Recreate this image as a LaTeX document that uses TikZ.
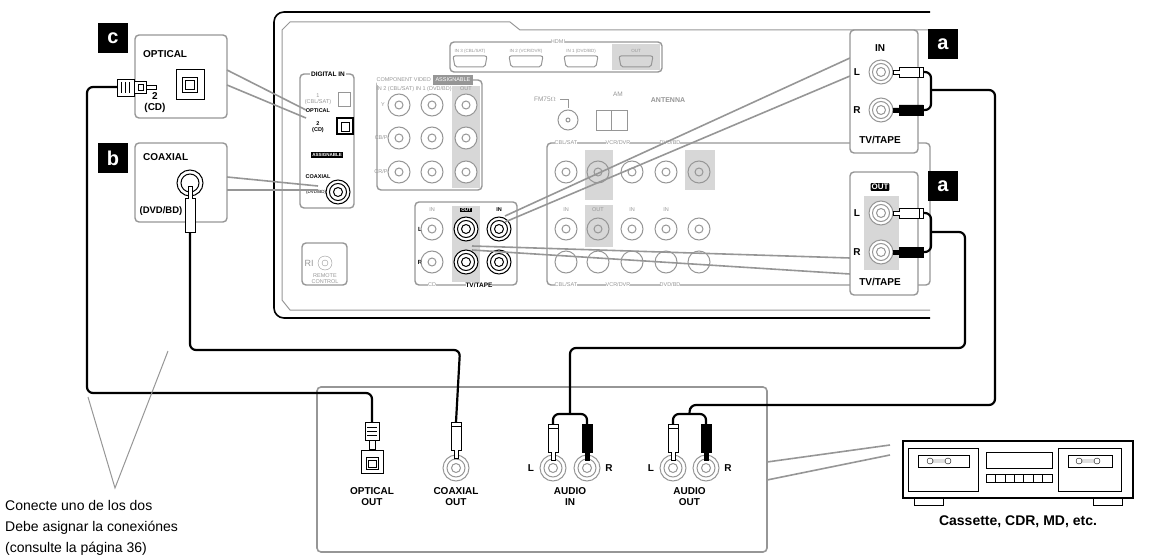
\documentclass[tikz,border=0pt]{standalone}
\usepackage{fontspec}
\setmainfont{Liberation Sans}
\usetikzlibrary{calc}
\definecolor{gl}{RGB}{150,150,150}
\definecolor{gf}{RGB}{215,215,215}
\newcommand{\rcajack}[4]{% name, x, y, color
  \node[circle,draw=#4,line width=1pt,minimum size=24pt,inner sep=0pt,fill=white] (#1) at (#2,#3) {};
  \draw[#4,line width=1pt] (#2,#3) circle (8.5pt) (#2,#3) circle (4.5pt);}
\newcommand{\rcaplugH}[3]{% x y fill
  \begin{scope}[shift={(#1,#2)}]
  \draw[line width=0.8pt,fill=#3] (0,-2)--(6,-2)--(6,-5)--(30,-5)--(30,5)--(6,5)--(6,2)--(0,2)--cycle;
  \draw[line width=0.8pt] (26,-5)--(26,5);
  \end{scope}}
\newcommand{\rcaplugV}[3]{% x ytop fill
  \begin{scope}[shift={(#1,#2)}]
  \draw[line width=0.8pt,fill=#3] (-5,0)--(5,0)--(5,28)--(2,28)--(2,36)--(-2,36)--(-2,28)--(-5,28)--cycle;
  \draw[line width=0.8pt] (-5,4)--(5,4);
  \end{scope}}
\tikzset{
  cable/.style={line width=2.2pt,rounded corners=6pt},
  callout/.style={gl,line width=1.6pt},
  gbox/.style={draw=gl,line width=1.4pt,rounded corners=4pt},
  lbl/.style={font=\bfseries\fontsize{10}{11}\selectfont,inner sep=0pt,align=center},
  tiny/.style={font=\fontsize{5.5}{6}\selectfont,gl,inner sep=0pt,align=center},
  tag/.style={fill=black,text=white,font=\bfseries\fontsize{20}{20}\selectfont,minimum size=30pt,inner sep=0pt}
}
\begin{document}
\begin{tikzpicture}[x=1pt,y=-1pt]
\useasboundingbox (0,0) rectangle (1151,559);
% ---------- receiver panel ----------
\draw[line width=1.6pt,rounded corners=10pt] (930,12)--(274,12)--(274,318)--(930,318);
\draw[gl,line width=1pt] (930,30)--(520,30)--(510,22)--(290,22)--(282,30)--(282,300)--(290,310)--(930,310);
% digital in
\draw[gbox] (300,74) rectangle (354,208);
\node[lbl,fill=white,inner xsep=1pt,font=\bfseries\fontsize{6.5}{7}\selectfont] (dig) at (328,74) {DIGITAL IN};
\draw[gl] (338,92) rectangle (350,106); \node[tiny] (o1) at (318,99) {1\\(CBL/SAT)};
\node[lbl,font=\bfseries\fontsize{5.5}{6}\selectfont] (optt) at (318,111) {OPTICAL};
\draw[line width=1.2pt] (337,118) rectangle (353,134); \draw (341,122) rectangle (349,131);
\node[lbl,font=\bfseries\fontsize{5.5}{6}\selectfont] (o2) at (318,127) {2\\(CD)};
\node[fill=black,text=white,font=\bfseries\fontsize{4.5}{4.5}\selectfont,inner sep=1pt] (asg) at (327,155) {ASSIGNABLE};
\node[lbl,font=\bfseries\fontsize{5.5}{6}\selectfont] (coxt) at (318,177) {COAXIAL};
\node[tiny,black,font=\fontsize{4.5}{5}\selectfont] (dvd) at (316,192) {(DVD/BD)};
\rcajack{cx}{338}{192}{black}
% remote
\draw[gbox] (302,243) rectangle (347,285);
\node[circle,draw=gl,minimum size=14pt,inner sep=0] (ri) at (325,263) {}; \draw[gl] (325,263) circle (3pt);
\node[gl,font=\fontsize{9}{9}\selectfont] (rit) at (309,263) {RI};
\node[tiny] (rc) at (325,279) {REMOTE\\CONTROL};
% component video
\draw[gbox] (377,80) rectangle (482,190);
\fill[gf] (452,86) rectangle (480,188);
\node[tiny,fill=white] (cv) at (425,80) {COMPONENT VIDEO \colorbox{gl}{\color{white}ASSIGNABLE}};
\node[tiny] (cvin) at (414,89) {IN 2 (CBL/SAT) IN 1 (DVD/BD)};
\node[tiny] (cvo) at (466,89) {OUT};
\foreach \y/\t in {105/{Y},138/{CB/PB},172/{CR/PR}}{
  \node[tiny] at (383,\y) {\t};
  \foreach \x in {399,432,466}{ \draw[gl,line width=1pt,fill=white] (\x,\y) circle (11pt) (\x,\y) circle (4pt);}}
% HDMI
\draw[gbox] (450,42) rectangle (662,72);
\fill[gf] (612,44) rectangle (660,70);
\node[tiny,fill=white] (hd) at (558,42) {HDMI};
\foreach \x/\t in {470/{IN 3 (CBL/SAT)},526/{IN 2 (VCR/DVR)},581/{IN 1 (DVD/BD)},636/{OUT}}{
  \node[tiny,font=\fontsize{4.5}{5}\selectfont] at (\x,51) {\t};
  \draw[gl,line width=1pt,rounded corners=2pt] (\x-17,56)--(\x+17,56)--(\x+15,67)--(\x-15,67)--cycle;}
% antenna
\node[tiny,font=\fontsize{6.5}{6}\selectfont] (fm) at (545,99) {FM75$\Omega$};
\draw[gl,line width=1pt] (568,120) circle (10pt) (568,120) circle (2pt);
\draw[gl] (560,99)--(568,99)--(568,108);
\node[tiny,font=\fontsize{6.5}{6}\selectfont] (am) at (618,94) {AM};
\draw[gl,line width=1pt] (596,111) rectangle (627,131) (611,111)--(611,131);
\node[tiny,font=\bfseries\fontsize{7}{6}\selectfont] (ant) at (668,100) {ANTENNA};
% right jacks
\draw[gbox] (547,143) rectangle (930,285);
\fill[gf] (585,150) rectangle (613,200); \fill[gf] (585,205) rectangle (613,247); \fill[gf] (685,150) rectangle (715,190);
\foreach \x/\t in {566/{CBL/SAT},618/{VCR/DVR},670/{DVD/BD}}{\node[tiny,fill=white] at (\x,143) {\t}; \node[tiny,fill=white] at (\x,285) {\t};}
\foreach \x in {566,598,632,666,699}{
  \draw[gl,line width=1pt] (\x,172) circle (11pt) (\x,172) circle (4pt);
  \draw[gl,line width=1pt] (\x,229) circle (11pt) (\x,229) circle (4pt);
  \draw[gl,line width=1pt] (\x,262) circle (11pt);}
\foreach \x/\t in {566/IN,598/OUT,632/IN,666/IN}{\node[tiny] at (\x,210) {\t};}
% CD / TV-TAPE
\draw[gbox,fill=white] (415,202) rectangle (517,285);
\fill[gf] (452,206) rectangle (480,282);
\node[tiny] (cdin) at (432,210) {IN};
\node[fill=black,text=white,font=\bfseries\fontsize{4.5}{4.5}\selectfont,inner sep=0.8pt] (tout) at (466,210) {OUT};
\node[lbl,font=\bfseries\fontsize{5.5}{5}\selectfont] (tin) at (499,210) {IN};
\node[lbl,font=\bfseries\fontsize{6}{6}\selectfont] (ll) at (420,229) {L};
\node[lbl,font=\bfseries\fontsize{6}{6}\selectfont] (rr) at (420,262) {R};
\foreach \y in {229,262}{\draw[gl,line width=1pt] (432,\y) circle (11pt) (432,\y) circle (4pt);}
\rcajack{toL}{466}{229}{black}\rcajack{toR}{466}{262}{black}
\rcajack{tiL}{499}{229}{black}\rcajack{tiR}{499}{262}{black}
\node[tiny,fill=white] (cdt) at (432,285) {CD};
\node[lbl,fill=white,font=\bfseries\fontsize{6.5}{6}\selectfont] (tvt) at (479,285) {TV/TAPE};
% ---------- left callouts ----------
\node[tag] (tc) at (113,38) {c};
\node[tag] (tb) at (113,158) {b};
\draw[gbox] (135,35) rectangle (227,118);
\node[lbl,anchor=west] (optl) at (143,54) {OPTICAL};
\draw[line width=1pt] (176,70) rectangle (204,100); \draw (182,77)--(197,77)--(197,92)--(182,92)--cycle; \draw (185,80) rectangle (194,89);
\node[lbl] (cd2) at (155,103) {2\\(CD)};
\draw[gbox] (135,143) rectangle (227,222);
\node[lbl,anchor=west] (coxl) at (143,157) {COAXIAL};
\node[lbl,font=\bfseries\fontsize{9.5}{10}\selectfont] (dvdl) at (161,211) {(DVD/BD)};
\draw[line width=1pt] (190,183) circle (13pt) (190,183) circle (9pt);
\draw[callout] (227,70)--(306,110) (227,85)--(306,118);
\draw[callout] (227,177)--(318,186) (227,190)--(318,190);
% optical plug
\draw[line width=0.8pt,fill=white] (117,79) rectangle (134,96);
\foreach \xx in {121,125,129}{\draw (\xx,82)--(\xx,93);}
\draw[line width=0.8pt,fill=white] (134,81) rectangle (146,93); \draw (138,84) rectangle (143,90);
\draw[line width=0.8pt] (146,85)--(156,85)--(156,89)--(146,89);
\coordinate (opA) at (117,87);
% coax plug
\draw[line width=0.8pt,fill=white] (188,186)--(192,186)--(192,198)--(195,198)--(195,232)--(185,232)--(185,198)--(188,198)--cycle;
\coordinate (coA) at (190,232);
% ---------- right callouts ----------
\draw[callout] (505,216)--(850,58) (505,222)--(850,76);
\draw[callout] (472,246)--(850,258) (472,250)--(850,274);
\node[tag] (ta1) at (943,44) {a};
\node[tag] (ta2) at (943,186) {a};
\draw[gbox,fill=white] (850,30) rectangle (918,153);
\node[lbl] (inl) at (880,48) {IN};
\node[lbl] (inL) at (857,72) {L}; \node[lbl] (inR) at (857,110) {R};
\rcajack{iL}{881}{72}{gl}\rcajack{iR}{881}{110}{gl}
\node[lbl] (tv1) at (880,140) {TV/TAPE};
\rcaplugH{893}{72}{white}
\rcaplugH{893}{110}{black}
\draw[gbox,fill=white] (850,172) rectangle (918,295);
\fill[gf] (864,196) rectangle (899,270);
\node[fill=black,text=white,font=\bfseries\fontsize{8}{8}\selectfont,inner sep=1pt,rounded corners=1pt] (outl) at (880,187) {OUT};
\node[lbl] (oL) at (857,213) {L}; \node[lbl] (oR) at (857,252) {R};
\rcajack{oLj}{881}{213}{gl}\rcajack{oRj}{881}{252}{gl}
\node[lbl] (tv2) at (880,282) {TV/TAPE};
\rcaplugH{893}{213}{white}
\rcaplugH{893}{252}{black}
% ---------- bottom device box ----------
\draw[gbox,line width=1.6pt] (317,387) rectangle (767,552);
% optical out
\draw[line width=0.8pt,fill=white] (365,422) rectangle (379,440); \foreach \yy in {427,431,435}{\draw (367,\yy)--(377,\yy);}
\draw[line width=0.8pt,fill=white] (369,440) rectangle (375,449);
\draw[line width=1pt] (361,450) rectangle (383,473); \draw (366,457) rectangle (378,469); \draw (368,460) rectangle (376,467);
\node[lbl] (oo) at (372,497) {OPTICAL\\OUT};
\coordinate (opB) at (372,422);
% coax out
\draw[gl,line width=1pt] (456,468) circle (13pt) (456,468) circle (9pt) (456,468) circle (4.5pt);
\rcaplugV{456}{422}{white}
\node[lbl] (co) at (456,497) {COAXIAL\\OUT};
\coordinate (coB) at (456,422);
% audio in/out
\foreach \xa/\xb/\t/\nm in {553/587/IN/ai,673/706/OUT/ao}{
  \draw[gl,line width=1pt] (\xa,468) circle (13pt) (\xa,468) circle (9pt) (\xa,468) circle (4.5pt);
  \draw[gl,line width=1pt] (\xb,468) circle (13pt) (\xb,468) circle (9pt) (\xb,468) circle (4.5pt);
  \rcaplugV{\xa}{424}{white}\rcaplugV{\xb}{424}{black}
  \node[lbl] at (\xa-22,468) {L}; \node[lbl] at (\xb+22,468) {R};
  \node[lbl] at ({(\xa+\xb)/2},497) {AUDIO\\\t};
  \draw[cable] (\xa,424)--(\xa,414)--(\xb,414)--(\xb,424);
  \coordinate (\nm) at ({(\xa+\xb)/2},414);}
% cables
\draw[cable] (opA)--(87,87)--(87,393)--(372,393)--(opB);
\draw[cable] (coA)--(190,350)--(460,350)--(coB);
\draw[cable] (ai)--(570,348)--(965,348)--(965,232)--(931,232);
\draw[cable] (923,213)--(931,213)--(931,252)--(923,252);
\draw[cable] (ao)--(690,405)--(995,405)--(995,90)--(931,90);
\draw[cable] (923,72)--(931,72)--(931,110)--(923,110);
% cassette deck
\draw[line width=1.2pt] (903,441) rectangle (1133,498);
\draw[line width=1pt] (908,448) rectangle (978,491); \draw[line width=1pt] (1058,448) rectangle (1121,491);
\draw (918,455) rectangle (969,467); \draw (1068,455) rectangle (1112,467);
\foreach \xx in {930,1079}{\draw (\xx,461) circle (3pt) (\xx+18,461) circle (3pt) (\xx+3,460)--(\xx+15,460) (\xx+3,462)--(\xx+15,462);}
\draw (986,452) rectangle (1052,468);
\foreach \k in {0,...,6}{\draw (986+\k*9.4,474) rectangle (986+\k*9.4+9.4,482);}
\draw[line width=1pt] (914,498) rectangle (943,505) (1093,498) rectangle (1122,505);
\node[font=\bfseries\fontsize{14}{14}\selectfont,inner sep=0] (cas) at (1018,522) {Cassette, CDR, MD, etc.};
\draw[callout] (767,462)--(890,445) (767,480)--(890,455);
% notes
\draw[gl,line width=1pt] (88,397)--(115,488)--(168,351);
\node[anchor=west,font=\fontsize{14}{21}\selectfont,align=left,inner sep=0] (note) at (5,528) {Conecte uno de los dos\\Debe asignar la conexiónes\\(consulte la página 36)};
\end{tikzpicture}
\end{document}
